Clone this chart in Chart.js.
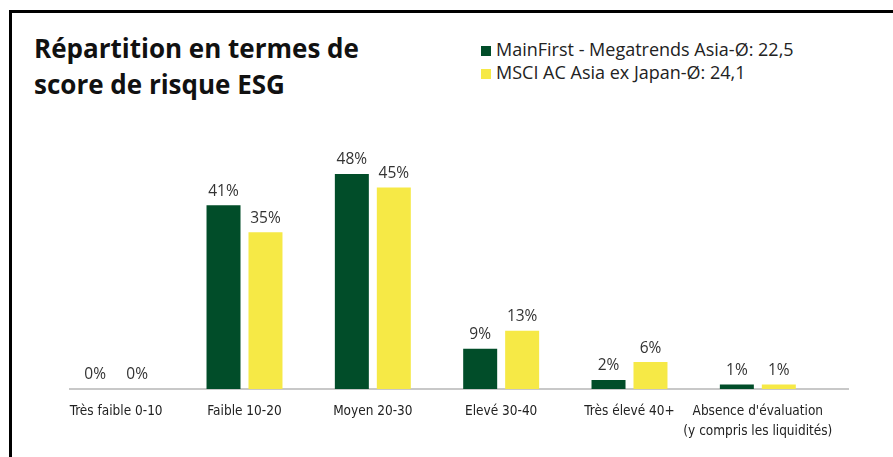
<!DOCTYPE html>
<html>
<head>
<meta charset="utf-8">
<script src="https://cdn.jsdelivr.net/npm/chart.js@4.4.1/dist/chart.umd.min.js"></script>
<style>
  html, body { margin: 0; padding: 0; background: #fff; }
  #wrap { position: relative; width: 893px; height: 457px; overflow: hidden; }
  #frame { position: absolute; left: 9px; top: 10px; width: 1000px; height: 600px; border: 3px solid #000; box-sizing: border-box; }
  #title { position: absolute; left: 34px; top: 30px; font: 700 26px "Open Sans", sans-serif; line-height: 36px; color: #111; }
  #legend { position: absolute; left: 481px; top: 38px; font: 18px "Open Sans", sans-serif; color: #222; line-height: 23px; }
  #legend span.box { display: inline-block; width: 10px; height: 10px; margin-right: 5px; }
  canvas { position: absolute; left: 0; top: 0; }
</style>
</head>
<body>
<div id="wrap">
  <div id="frame"></div>
  <div id="title">Répartition en termes de<br>score de risque ESG</div>
  <div id="legend"></div>
  <canvas id="chart" width="893" height="457"></canvas>
</div>
<script>
const categories = [
  "Très faible 0-10",
  "Faible 10-20",
  "Moyen 20-30",
  "Elevé 30-40",
  "Très élevé 40+",
  ["Absence d'évaluation", "(y compris les liquidités)"]
]
const seriesNames = [
  "MainFirst - Megatrends Asia-Ø: 22,5",
  "MSCI AC Asia ex Japan-Ø: 24,1"
]
const fundValues = [0, 41, 48, 9, 2, 1]
const indexValues = [0, 35, 45, 13, 6, 1]
const COLORS = ["#014d29", "#f6e946"]

document.getElementById("legend").innerHTML = seriesNames
  .map((n, i) => `<div><span class="box" style="background:${COLORS[i]}"></span>${n}</div>`)
  .join("")

// grey baseline, a bit offset from the chart area like in the source
const baseline = {
  id: "baseline",
  beforeDatasetsDraw(chart) {
    const y = chart.scales.y.getPixelForValue(0)
    const ctx = chart.ctx
    ctx.save()
    ctx.strokeStyle = "#c8c8c8"
    ctx.lineWidth = 2
    ctx.beginPath()
    ctx.moveTo(69, y)
    ctx.lineTo(849, y)
    ctx.stroke()
    ctx.restore()
  }
}

const valueLabels = {
  id: "valueLabels",
  afterDatasetsDraw(chart) {
    const ctx = chart.ctx
    ctx.save()
    ctx.font = "15.5px 'Open Sans', sans-serif"
    ctx.fillStyle = "#333"
    ctx.textAlign = "center"
    ctx.textBaseline = "middle"
    chart.data.datasets.forEach((ds, di) => {
      chart.getDatasetMeta(di).data.forEach((bar, i) => {
        ctx.fillText(`${ds.data[i]}%`, bar.x, bar.y - 14)
      })
    })
    ctx.restore()
  }
}

new Chart(document.getElementById("chart"), {
  type: "bar",
  data: {
    labels: categories,
    datasets: [
      { label: seriesNames[0], data: fundValues, backgroundColor: COLORS[0] },
      { label: seriesNames[1], data: indexValues, backgroundColor: COLORS[1] }
    ]
  },
  options: {
    responsive: false,
    animation: false,
    events: [],
    categoryPercentage: 0.654,
    barPercentage: 0.81,
    layout: { padding: { left: 52, right: 71, top: 165, bottom: 0 } },
    plugins: { legend: { display: false }, tooltip: { enabled: false } },
    scales: {
      x: {
        grid: { display: false, drawTicks: false },
        border: { display: false },
        ticks: {
          color: "#222",
          padding: 13,
          maxRotation: 0,
          autoSkip: false,
          font: { family: "'Liberation Sans Narrow', 'DejaVu Sans Condensed', sans-serif", size: 13.5, lineHeight: 1.45 }
        },
        afterFit: (s) => { s.height = 457 - 389 }
      },
      y: { display: false, min: 0, max: 50 }
    }
  },
  plugins: [baseline, valueLabels]
})
</script>
</body>
</html>
